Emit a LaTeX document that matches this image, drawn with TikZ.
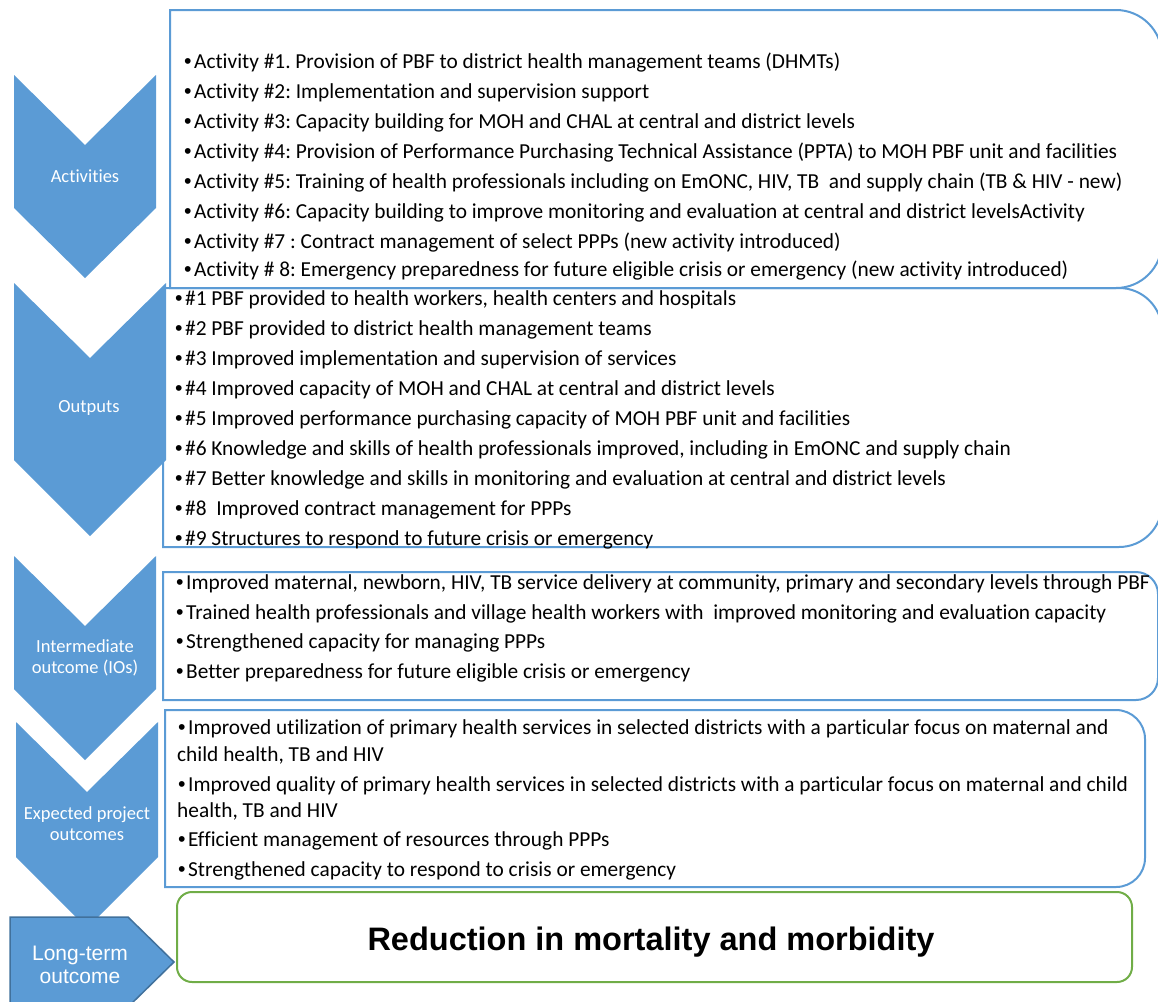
\documentclass[tikz,border=0pt]{standalone}
\usepackage{fontspec}
\setmainfont{Carlito}[Ligatures=NoCommon]
\newfontfamily\arialfont{Liberation Sans}
\definecolor{chevblue}{HTML}{5B9BD5}
\definecolor{edgeblue}{HTML}{41719C}
\definecolor{leafgreen}{HTML}{70AD47}
% small round bullet in front of each list entry
\newcommand{\blt}{{\arialfont •}\kern2.5pt\relax}

\begin{document}
\frenchspacing
\begin{tikzpicture}[x=1pt,y=-1pt,
  chev/.style={fill=chevblue,draw=none},
  listbox/.style={draw=chevblue,line width=2pt},
  itemtext/.style={anchor=base west,inner sep=0pt,text=black,
    font=\fontsize{21.35}{25}\selectfont},
  chevlabel/.style={align=center,inner sep=0pt,text=white,
    font=\fontsize{18.5}{21}\selectfont},
  armlabel/.style={align=center,inner sep=0pt,text=white,
    font=\arialfont\fontsize{21}{23.5}\selectfont}
]
\useasboundingbox (0,0) rectangle (1158,1001);
\clip (0,0) rectangle (1158,1001);

% chevrons of the stages
\path[chev] (14,75) -- (85,145) -- (156,75) -- (156,208) -- (85,278) -- (14,208) -- cycle;
\path[chev] (14,283) -- (90,358) -- (166,283) -- (166,460) -- (90,536) -- (14,460) -- cycle;
\path[chev] (14,556) -- (85,626) -- (156,556) -- (156,689) -- (85,760) -- (14,689) -- cycle;
\path[chev] (16,722) -- (87,792) -- (158,722) -- (158,857) -- (87,928) -- (16,857) -- cycle;
% pentagon of the final stage
\path[fill=chevblue,draw=edgeblue,line width=1.5pt]
  (10,917) -- (128,917) -- (174,962) -- (128,1007) -- (10,1007) -- cycle;

% list boxes: square on the left, rounded on the right
\draw[listbox] (170,10) -- (1116,10) arc(-90:0:46) -- (1162,242) arc(0:90:46) -- (170,288) -- cycle;
\draw[listbox] (163,288) -- (1119,288) arc(-90:0:43) -- (1162,504) arc(0:90:43) -- (163,547) -- cycle;
\draw[listbox] (163,572) -- (1136,572) arc(-90:0:22) -- (1158,678) arc(0:90:22) -- (163,700) -- cycle;
\draw[listbox] (165,710) -- (1116,710) arc(-90:0:29) -- (1145,858) arc(0:90:29) -- (165,887) -- cycle;
\draw[draw=leafgreen,line width=2pt,rounded corners=15pt] (177,892) rectangle (1132,982);

% stage names
\node[chevlabel] (lAct) at (85,176) {Activities};
\node[chevlabel] (lOut) at (89,408) {Outputs};
\node[chevlabel] (lIO) at (85,658) {Intermediate\\outcome (IOs)};
\node[chevlabel] (lExp) at (87,824) {Expected project\\outcomes};
\node[armlabel] (lLong) at (80,965) {Long-term\\outcome};

% activities
\node[itemtext] (a1) at (184,68.3) {\blt Activity \#1. Provision of PBF to district health management teams (DHMTs)};
\node[itemtext] (a2) at (184,98.3) {\blt Activity \#2: Implementation and supervision support};
\node[itemtext] (a3) at (184,128.3) {\blt Activity \#3: Capacity building for MOH and CHAL at central and district levels};
\node[itemtext] (a4) at (184,158.3) {\blt Activity \#4: Provision of Performance Purchasing Technical Assistance (PPTA) to MOH PBF unit and facilities};
\node[itemtext] (a5) at (184,188.3) {\blt Activity \#5: Training of health professionals including on EmONC, HIV, TB~ and supply chain (TB \& HIV - new)};
\node[itemtext] (a6) at (184,218.3) {\blt Activity \#6: Capacity building to improve monitoring and evaluation at central and district levelsActivity};
\node[itemtext] (a7) at (184,248.3) {\blt Activity \#7 : Contract management of select PPPs (new activity introduced)};
\node[itemtext] (a8) at (184,276.6) {\blt Activity \# 8: Emergency preparedness for future eligible crisis or emergency (new activity introduced)};

% outputs
\node[itemtext] (o1) at (175,305.6) {\blt\#1 PBF provided to health workers, health centers and hospitals};
\node[itemtext] (o2) at (175,335.6) {\blt\#2 PBF provided to district health management teams};
\node[itemtext] (o3) at (175,365.6) {\blt\#3 Improved implementation and supervision of services};
\node[itemtext] (o4) at (175,395.6) {\blt\#4 Improved capacity of MOH and CHAL at central and district levels};
\node[itemtext] (o5) at (175,425.6) {\blt\#5 Improved performance purchasing capacity of MOH PBF unit and facilities};
\node[itemtext] (o6) at (175,455.6) {\blt\#6 Knowledge and skills of health professionals improved, including in EmONC and supply chain};
\node[itemtext] (o7) at (175,485.6) {\blt\#7 Better knowledge and skills in monitoring and evaluation at central and district levels};
\node[itemtext] (o8) at (175,515.6) {\blt\#8~ Improved contract management for PPPs};
\node[itemtext] (o9) at (175,545.6) {\blt\#9 Structures to respond to future crisis or emergency};

% intermediate outcomes
\node[itemtext] (i1) at (176,589.6) {\blt Improved maternal, newborn, HIV, TB service delivery at community, primary and secondary levels through PBF};
\node[itemtext] (i2) at (176,619.6) {\blt Trained health professionals and village health workers with~ improved monitoring and evaluation capacity};
\node[itemtext] (i3) at (176,648.6) {\blt Strengthened capacity for managing PPPs};
\node[itemtext] (i4) at (176,678.6) {\blt Better preparedness for future eligible crisis or emergency};

% expected project outcomes
\node[itemtext] (e1) at (178,734.6) {\blt Improved utilization of primary health services in selected districts with a particular focus on maternal and};
\node[itemtext] (e1b) at (177,761.6) {child health, TB and HIV};
\node[itemtext] (e2) at (178,791.6) {\blt Improved quality of primary health services in selected districts with a particular focus on maternal and child};
\node[itemtext] (e2b) at (177,817.6) {health, TB and HIV};
\node[itemtext] (e3) at (178,846.6) {\blt Efficient management of resources through PPPs};
\node[itemtext] (e4) at (178,876.6) {\blt Strengthened capacity to respond to crisis or emergency};

% long-term outcome
\node[font=\arialfont\bfseries\fontsize{32.5}{38}\selectfont,inner sep=0pt] (goal) at (651,942) {Reduction in mortality and morbidity};
\end{tikzpicture}
\end{document}
